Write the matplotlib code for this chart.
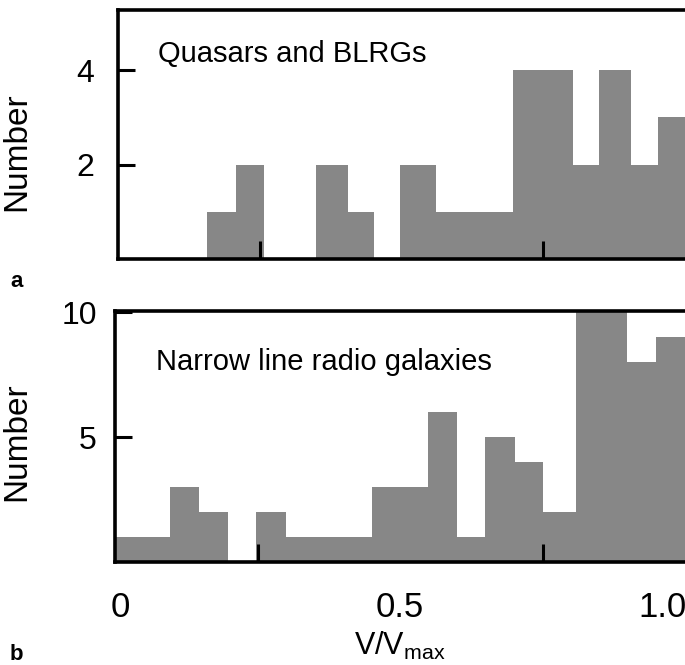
import numpy as np
import matplotlib
matplotlib.use("Agg")
import matplotlib.pyplot as plt

# panel a: quasars and BLRGs (bin edges)
edges_a = [0.157, 0.208, 0.258, 0.350, 0.405, 0.452, 0.498, 0.560,
           0.696, 0.802, 0.848, 0.905, 0.952, 1.0]
counts_a = [1, 2, 0, 2, 1, 0, 2, 1, 4, 2, 4, 2, 3]

# panel b: narrow line radio galaxies
edges_b = [0.0, 0.097, 0.148, 0.199, 0.247, 0.300, 0.450, 0.549, 0.600,
           0.649, 0.702, 0.750, 0.808, 0.898, 0.949, 1.0]
counts_b = [1, 3, 2, 0, 2, 1, 3, 6, 1, 5, 4, 2, 10, 8, 9]

xtick_marks = [0.25, 0.5, 0.75]
xtick_pos = [0.01, 0.5, 0.96]
xtick_labels = ["0", "0.5", "1.0"]
yticks_a = [2, 4]
yticks_b = [5, 10]

plt.rcParams.update({
    "font.family": ["Liberation Sans", "DejaVu Sans"],
    "font.size": 20,
})

W, H = 685, 665
fig = plt.figure(figsize=(W / 100, H / 100), dpi=100)

bar_color = "#878787"


def setup(ax, edges, counts, ylim, yticks, label_x, ypad):
    e = np.asarray(edges)
    ax.bar(e[:-1], counts, width=np.diff(e), align="edge",
           color=bar_color, edgecolor="none", linewidth=0)
    ax.set_xlim(0, 1.0)
    ax.set_ylim(*ylim)
    for s in ("left", "bottom", "top"):
        ax.spines[s].set_linewidth(2.6)
    ax.spines["right"].set_visible(False)
    ax.set_yticks(yticks)
    ax.tick_params(axis="y", direction="in", length=12, width=2.2,
                   pad=ypad, labelsize=23)
    ax.set_xticks(xtick_marks, minor=True)
    ax.tick_params(axis="x", which="minor", direction="in", length=13,
                   width=2.2, top=False)
    ax.set_xticks(xtick_pos)
    if label_x:
        ax.set_xticklabels(xtick_labels)
        ax.tick_params(axis="x", which="major", length=0, pad=21, labelsize=25)
    else:
        ax.set_xticklabels([])
        ax.tick_params(axis="x", which="major", length=0)
    ax.set_ylabel("Number", fontsize=24)


ax1 = fig.add_axes([118 / W, 1 - 259 / H, (W - 118) / W, (259 - 10) / H])
setup(ax1, edges_a, counts_a, (0, 5.27), yticks_a, False, 17)
ax1.text(0.07, 4.33, "Quasars and BLRGs", fontsize=21, va="center")
ax1.yaxis.set_label_coords(-0.152, 0.43)

ax2 = fig.add_axes([115 / W, 1 - 562 / H, (W - 115) / W, (562 - 311) / H])
setup(ax2, edges_b, counts_b, (0, 10.05), yticks_b, True, 13)
ax2.text(0.072, 8.0, "Narrow line radio galaxies", fontsize=21, va="center")
ax2.set_xlabel(r"V/V$_{\mathregular{max}}$", fontsize=22, labelpad=4)
ax2.yaxis.set_label_coords(-0.146, 0.48)

fig.text(10 / W, 1 - 281 / H, "a", fontsize=16, fontweight="bold", va="center")
fig.text(10 / W, 1 - 655 / H, "b", fontsize=16, fontweight="bold", va="center")

fig.savefig("out.png", dpi=100)
